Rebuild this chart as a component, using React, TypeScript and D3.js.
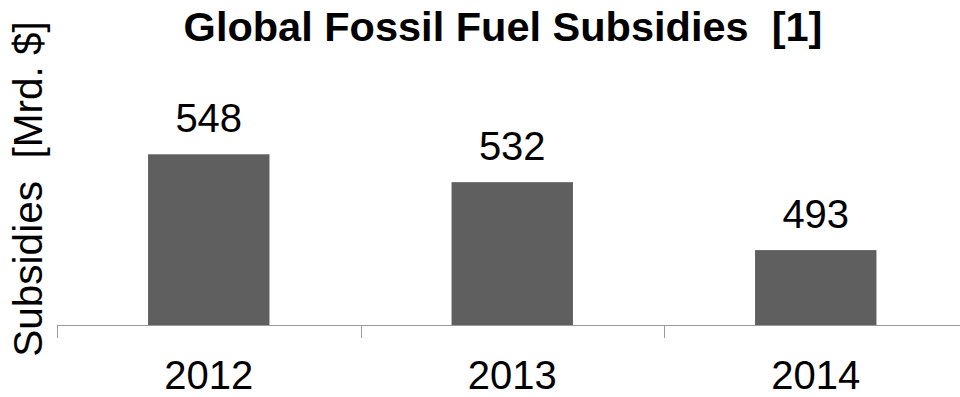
import React from "react";
import * as d3 from "d3";

const years = ["2012", "2013", "2014"];
const subsidies = [548, 532, 493];
const yDomain = [450, 600];

const W = 960;
const H = 397;
const FONT = "'Liberation Sans', Arial, Helvetica, sans-serif";

export default function App() {
  const left = 57;
  const baseY = 325;
  const x = d3.scaleBand<string>().domain(years).range([left, left + 3 * 303.5]).padding(0);
  const y = d3.scaleLinear().domain(yDomain).range([baseY, 63.7]);
  const bw = x.bandwidth();
  const barW = bw * 0.4;
  const tickXs = years.map((yr) => x(yr) as number).concat([(x(years[years.length - 1]) as number) + bw]);

  return (
    <svg
      width={W}
      height={H}
      viewBox={`0 0 ${W} ${H}`}
      style={{ position: "absolute", left: 0, top: 0, background: "#fff", display: "block" }}
    >
      <rect x={0} y={0} width={W} height={H} fill="#fff" />
      <text
        x={503}
        y={41}
        textAnchor="middle"
        fontFamily={FONT}
        fontWeight="bold"
        fontSize={41.5}
        fill="#000"
        style={{ whiteSpace: "pre" }}
      >
        {"Global Fossil Fuel Subsidies  [1]"}
      </text>
      <text
        transform={`translate(42, 189) rotate(-90)`}
        textAnchor="middle"
        fontFamily={FONT}
        fontSize={40.5}
        fill="#000"
        style={{ whiteSpace: "pre" }}
      >
        {"Subsidies  [Mrd. $]"}
      </text>

      {years.map((yr, i) => {
        const cx = (x(yr) as number) + bw / 2;
        const top = y(subsidies[i]);
        return (
          <g key={yr}>
            <rect x={cx - barW / 2} y={top} width={barW} height={baseY - top} fill="#5f5f5f" />
            <text
              x={cx}
              y={top - 22}
              textAnchor="middle"
              fontFamily={FONT}
              fontSize={40}
              fill="#000"
            >
              {subsidies[i]}
            </text>
            <text x={cx} y={389} textAnchor="middle" fontFamily={FONT} fontSize={40} fill="#000">
              {yr}
            </text>
          </g>
        );
      })}

      <line x1={left} x2={W} y1={baseY + 0.5} y2={baseY + 0.5} stroke="#9a9a9a" strokeWidth={1} />
      {tickXs.map((tx, i) => (
        <line
          key={i}
          x1={Math.round(tx) + 0.5}
          x2={Math.round(tx) + 0.5}
          y1={baseY}
          y2={baseY + 13}
          stroke="#9a9a9a"
          strokeWidth={1}
        />
      ))}
    </svg>
  );
}
